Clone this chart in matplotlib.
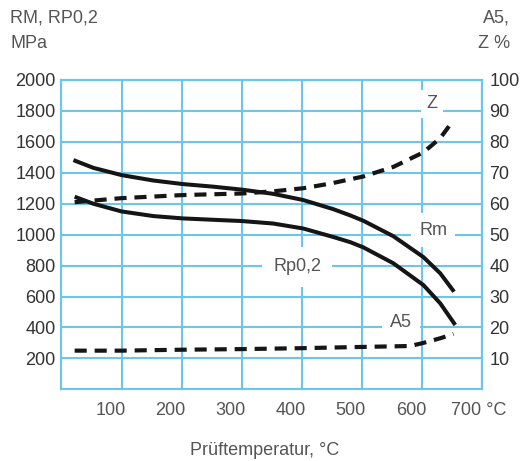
import matplotlib.pyplot as plt
import matplotlib.transforms as mtransforms

plt.rcParams['font.family'] = ['Liberation Sans', 'DejaVu Sans']

# temperature (°C) and strength values (MPa)
rm_t = [20, 53, 100, 153, 202, 253, 300, 352, 402, 452, 480, 502, 552, 602, 630, 653]
rm_v = [1482, 1432, 1385, 1350, 1327, 1310, 1291, 1264, 1224, 1165, 1125, 1090, 990, 855, 750, 631]

rp_t = [22, 53, 100, 153, 202, 253, 300, 352, 402, 452, 480, 502, 552, 602, 630, 655]
rp_v = [1245, 1200, 1150, 1120, 1105, 1096, 1088, 1072, 1040, 985, 952, 918, 815, 674, 556, 416]

# reduction of area Z and elongation A5 (%)
z_t = [22, 100, 202, 300, 352, 402, 447, 502, 552, 602, 630, 652]
z_v = [60.5, 61.8, 62.8, 63.3, 64.0, 65.0, 66.5, 68.8, 71.9, 76.6, 81.2, 87.0]

a5_t = [22, 100, 200, 300, 400, 500, 580, 600, 630, 652]
a5_v = [12.5, 12.5, 12.8, 13.0, 13.3, 13.7, 14.0, 14.9, 16.5, 17.9]

x_ticks = [100, 200, 300, 400, 500, 600, 700]
x_labels = ['100', '200', '300', '400', '500', '600', '700 °C']
left_ticks = list(range(200, 2001, 200))
right_ticks = list(range(10, 101, 10))

grid_c = '#6cc6ec'
text_c = '#555555'
tick_c = '#333333'

fig = plt.figure(figsize=(5.25, 4.61), dpi=100)
ax = fig.add_axes([0.117, 0.1555, 0.8017, 0.671])
ax2 = ax.twinx()

ax.set_xlim(0, 700)
ax.set_ylim(0, 2000)
ax2.set_ylim(0, 100)

ax.set_xticks(x_ticks)
ax.set_xticklabels(x_labels)
ax.set_yticks(left_ticks)
ax2.set_yticks(right_ticks)

ax.grid(True, color=grid_c, lw=1.5)
ax.set_axisbelow(True)
for a in (ax, ax2):
    for s in a.spines.values():
        s.set_color(grid_c)
        s.set_linewidth(1.5)
    a.tick_params(length=0, labelsize=13, colors=tick_c)
ax.tick_params(axis='y', pad=4)
ax2.tick_params(axis='y', pad=5)
ax.tick_params(axis='x', pad=9, colors=text_c)

for lbl in ax.get_xticklabels():
    lbl.set_ha('right')
    lbl.set_transform(lbl.get_transform() + mtransforms.ScaledTranslation(4 / 100, 0, fig.dpi_scale_trans))
last = ax.get_xticklabels()[-1]
last.set_ha('left')
last.set_transform(last.get_transform() + mtransforms.ScaledTranslation(-35 / 100, 0, fig.dpi_scale_trans))

ax.plot(rm_t, rm_v, color='#151515', lw=2.9, solid_capstyle='butt', solid_joinstyle='round', zorder=3)
ax.plot(rp_t, rp_v, color='#151515', lw=2.9, solid_capstyle='butt', solid_joinstyle='round', zorder=3)
ax2.plot(z_t, z_v, color='#151515', lw=3.0, dashes=(2.9, 1.9), zorder=3)
ax2.plot(a5_t, a5_v, color='#151515', lw=3.0, dashes=(2.9, 1.9), zorder=3)

box = dict(facecolor='white', edgecolor='none', pad=4)
ax.text(616, 1845, 'Z', ha='center', va='center', fontsize=13, color=text_c, bbox=box, zorder=2)
ax.text(618, 1030, 'Rm', ha='center', va='center', fontsize=13, color=text_c,
        bbox=dict(facecolor='white', edgecolor='none', pad=6), zorder=2)
ax.text(392, 791, 'Rp0,2', ha='center', va='center', fontsize=13, color=text_c,
        bbox=dict(facecolor='white', edgecolor='none', pad=8), zorder=2)
ax.text(565, 429, 'A5', ha='center', va='center', fontsize=13, color=text_c,
        bbox=dict(facecolor='white', edgecolor='none', pad=6), zorder=2)

fig.text(10 / 525, 1 - 18 / 461, 'RM, RP0,2', ha='left', va='center', fontsize=13, color=text_c)
fig.text(10 / 525, 1 - 44 / 461, 'MPa', ha='left', va='center', fontsize=13, color=text_c)
fig.text(510 / 525, 1 - 18 / 461, 'A5,', ha='right', va='center', fontsize=13, color=text_c)
fig.text(510 / 525, 1 - 44 / 461, 'Z %', ha='right', va='center', fontsize=13, color=text_c)
fig.text(265 / 525, 1 - 450 / 461, 'Prüftemperatur, °C', ha='center', va='center', fontsize=13, color=text_c)

fig.savefig('out.png', dpi=100)
